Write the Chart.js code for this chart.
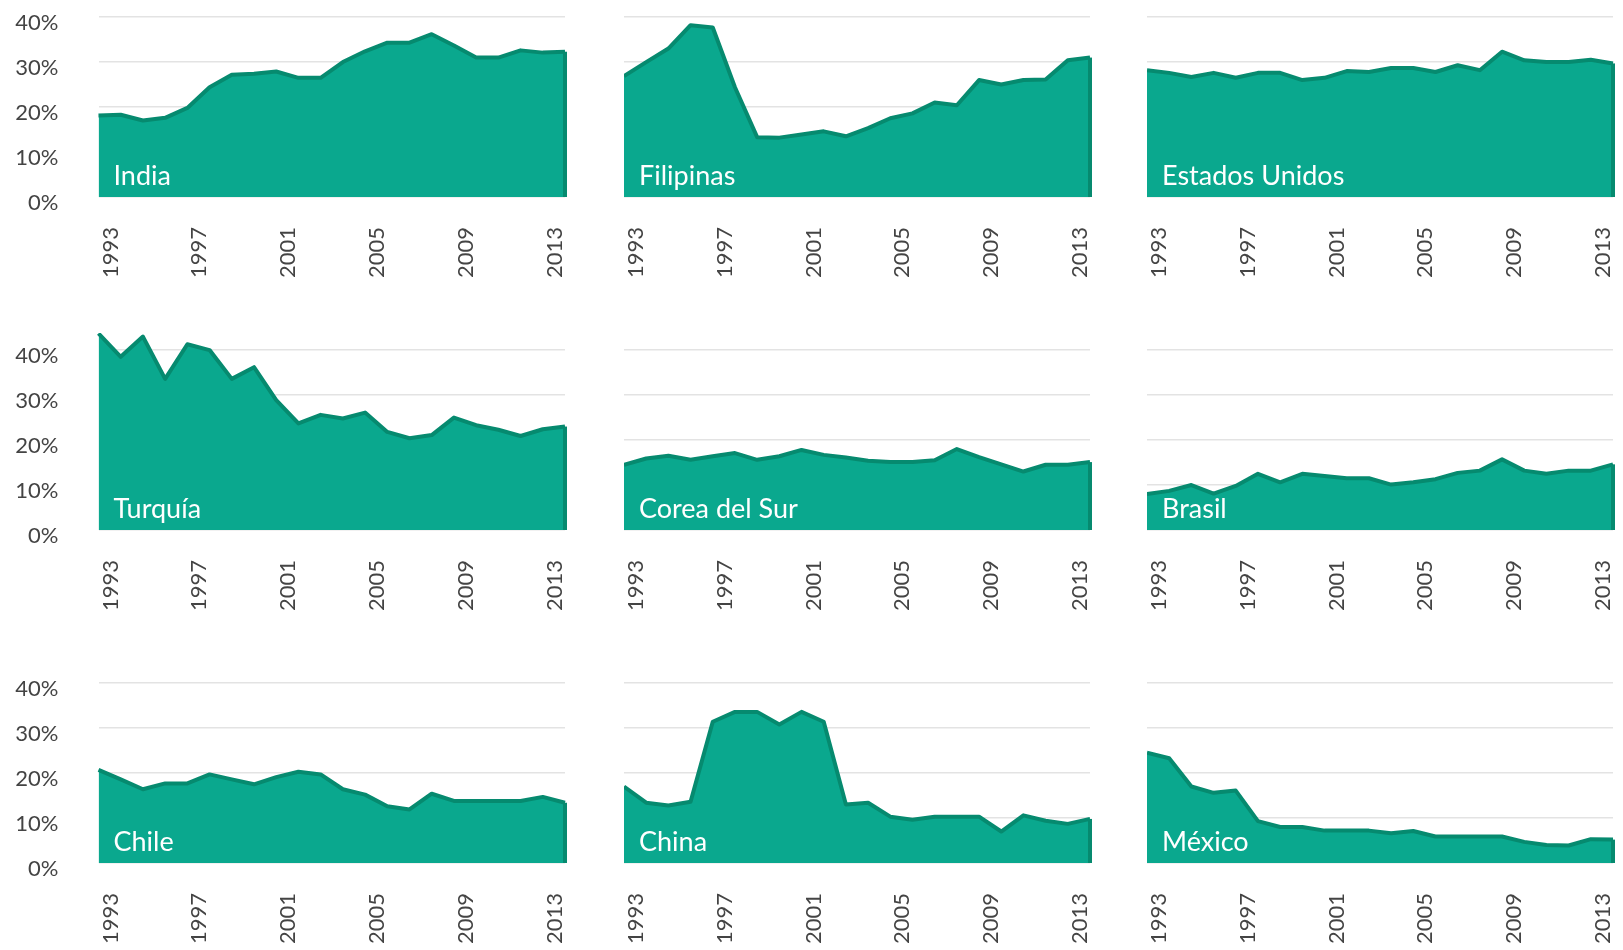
<!DOCTYPE html>
<html>
<head>
<meta charset="utf-8">
<script src="https://cdn.jsdelivr.net/npm/chart.js@4.4.1/dist/chart.umd.min.js"></script>
<style>
  html, body { margin: 0; padding: 0; background: #fff; overflow: hidden; }
  #wrap { position: relative; width: 1623px; height: 950px; }
  #wrap canvas { position: absolute; }
</style>
</head>
<body>
<div id="wrap"></div>
<script>
// #region data
const years = [1993, 1994, 1995, 1996, 1997, 1998, 1999, 2000, 2001, 2002, 2003,
               2004, 2005, 2006, 2007, 2008, 2009, 2010, 2011, 2012, 2013, 2014];
const yTicks = [0, 10, 20, 30, 40];

const india     = [18.1, 18.3, 17.0, 17.6, 19.8, 24.4, 27.2, 27.4, 27.9, 26.5, 26.5,
                   30.0, 32.4, 34.3, 34.3, 36.2, 33.7, 31.0, 31.0, 32.6, 32.1, 32.3];
const filipinas = [26.9, 30.0, 33.0, 38.2, 37.7, 24.4, 13.3, 13.2, 13.9, 14.6, 13.5,
                   15.3, 17.5, 18.6, 21.0, 20.4, 26.0, 25.0, 26.0, 26.1, 30.4, 31.0];
const eeuu      = [28.2, 27.6, 26.7, 27.6, 26.5, 27.6, 27.6, 26.0, 26.5, 28.0, 27.8,
                   28.7, 28.7, 27.8, 29.3, 28.2, 32.3, 30.4, 30.0, 30.0, 30.5, 29.7];
const turquia   = [43.7, 38.5, 43.0, 33.6, 41.3, 40.0, 33.6, 36.2, 28.9, 23.7, 25.6,
                   24.8, 26.1, 21.8, 20.4, 21.1, 25.0, 23.3, 22.3, 20.9, 22.4, 23.0];
const corea     = [14.5, 15.9, 16.5, 15.6, 16.4, 17.1, 15.6, 16.4, 17.8, 16.7, 16.1,
                   15.4, 15.1, 15.1, 15.5, 18.0, 16.2, 14.6, 13.0, 14.5, 14.5, 15.1];
const brasil    = [8.0, 8.7, 10.0, 8.1, 9.8, 12.5, 10.6, 12.5, 12.0, 11.5, 11.5,
                   10.1, 10.6, 11.3, 12.7, 13.2, 15.7, 13.2, 12.5, 13.2, 13.2, 14.6];
const chile     = [20.7, 18.6, 16.4, 17.7, 17.7, 19.7, 18.6, 17.5, 19.1, 20.3, 19.7,
                   16.4, 15.2, 12.6, 11.9, 15.4, 13.8, 13.8, 13.8, 13.8, 14.7, 13.4];
const china     = [17.0, 13.4, 12.8, 13.6, 31.4, 33.6, 33.6, 30.8, 33.6, 31.4, 13.0,
                   13.4, 10.3, 9.6, 10.3, 10.3, 10.3, 7.0, 10.6, 9.4, 8.7, 9.8];
const mexico    = [24.5, 23.3, 17.0, 15.6, 16.1, 9.3, 8.0, 8.0, 7.2, 7.2, 7.2,
                   6.6, 7.1, 5.9, 5.9, 5.9, 5.9, 4.7, 4.0, 3.9, 5.3, 5.2];

const countries = ['India', 'Filipinas', 'Estados Unidos',
                   'Turquía', 'Corea del Sur', 'Brasil',
                   'Chile', 'China', 'México'];
const seriesList = [india, filipinas, eeuu, turquia, corea, brasil, chile, china, mexico];
// #endregion

// #region layout & style
const FILL = '#0aa88e';
const LINE = '#068a6f';
const GRID = '#e3e3e3';
const TEXT = '#444444';
const FONT = 'Lato, "Open Sans", sans-serif';

const colLeft  = [98.5, 624, 1147];
const colRight = [564.5, 1090, 1613];
const rowBase  = [197, 530, 863];
const Y_MAX = 43.8, PLOT_H = 197, AXIS_W = 98.5, XAXIS_H = 84, PAD = 4;
// #endregion

// #region plugin: right edge stroke + panel name
const edgeAndName = {
  id: 'edgeAndName',
  afterDatasetsDraw(chart, args, opts) {
    const { ctx, chartArea } = chart;
    const pts = chart.getDatasetMeta(0).data;
    const last = pts[pts.length - 1];
    const y0 = chart.scales.y.getPixelForValue(0);
    ctx.save();
    ctx.strokeStyle = LINE;
    ctx.lineWidth = 4;
    ctx.beginPath();
    ctx.moveTo(last.x, last.y);
    ctx.lineTo(last.x, y0);
    ctx.stroke();
    ctx.fillStyle = '#ffffff';
    ctx.font = '27px ' + FONT;
    ctx.textBaseline = 'alphabetic';
    ctx.fillText(opts.name, chartArea.left + 15, y0 - 12);
    ctx.restore();
  }
};
// #endregion

// #region build panels
const wrap = document.getElementById('wrap');

seriesList.forEach((values, k) => {
  const r = Math.floor(k / 3), c = k % 3;
  const left = c === 0 ? 0 : colLeft[c];
  const width = Math.round(colRight[c] - left + PAD);
  const height = PAD + PLOT_H + XAXIS_H;
  const top = rowBase[r] - PLOT_H - PAD;

  const canvas = document.createElement('canvas');
  canvas.width = width;
  canvas.height = height;
  canvas.style.left = left + 'px';
  canvas.style.top = top + 'px';
  canvas.style.width = width + 'px';
  canvas.style.height = height + 'px';
  wrap.appendChild(canvas);

  new Chart(canvas.getContext('2d'), {
    type: 'line',
    data: {
      labels: years,
      datasets: [{
        data: values,
        fill: 'origin',
        backgroundColor: FILL,
        borderColor: LINE,
        borderWidth: 4,
        borderJoinStyle: 'round',
        pointRadius: 0,
        tension: 0
      }]
    },
    options: {
      responsive: false,
      animation: false,
      layout: { padding: { top: PAD, right: PAD, left: 0, bottom: 0 } },
      plugins: {
        legend: { display: false },
        tooltip: { enabled: false },
        edgeAndName: { name: countries[k] }
      },
      scales: {
        x: {
          type: 'category',
          grid: { display: false, drawTicks: false },
          border: { display: false },
          ticks: {
            autoSkip: false,
            maxRotation: 90,
            minRotation: 90,
            padding: 30,
            labelOffset: 12,
            color: TEXT,
            font: { family: FONT, size: 22 },
            callback: (v, i) => ((years[i] - 1993) % 4 === 0 ? String(years[i]) : '')
          },
          afterFit: s => {
            s.height = XAXIS_H;
            s.paddingLeft = 0;
            s.paddingRight = 0;
          }
        },
        y: {
          min: 0,
          max: Y_MAX,
          afterBuildTicks: s => { s.ticks = yTicks.map(v => ({ value: v })); },
          grid: { color: GRID, lineWidth: 1.5, drawTicks: false },
          border: { display: false },
          ticks: {
            display: c === 0,
            padding: 40,
            labelOffset: 6,
            color: TEXT,
            font: { family: FONT, size: 22 },
            callback: v => v + '%'
          },
          afterFit: s => {
            s.width = c === 0 ? AXIS_W : 0;
            s.paddingTop = 0;
            s.paddingBottom = 0;
          }
        }
      }
    },
    plugins: [edgeAndName]
  });
});
// #endregion
</script>
</body>
</html>
